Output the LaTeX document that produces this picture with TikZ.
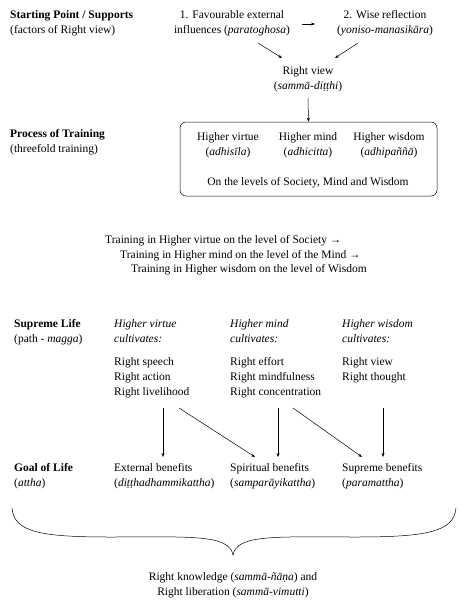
\documentclass[tikz,border=0pt]{standalone}
\usepackage{fontspec}
\setmainfont{Liberation Serif}
\usetikzlibrary{arrows.meta}
\begin{document}
\begin{tikzpicture}[x=1pt,y=-1pt,
  every node/.style={inner sep=0pt,font=\fontsize{11.5}{15}\selectfont},
  lt/.style={anchor=base west,align=left},
  ct/.style={anchor=base,align=center},
  arr/.style={line width=0.5pt,-{Stealth[length=4pt,width=3pt]}},
  ln/.style={line width=0.5pt}]
\useasboundingbox (0,0) rectangle (465,610);
% left labels (base anchor = last line baseline)
\node[lt] (sp) at (10,34) {\textbf{Starting Point / Supports}\\(factors of Right view)};
\node[lt] (pt) at (10,152) {\textbf{Process of Training}\\(threefold training)};
\node[lt] (sl) at (14,342) {\textbf{Supreme Life}\\(path - \textit{magga})};
\node[lt] (gl) at (14,486) {\textbf{Goal of Life}\\(\textit{attha})};
% top
\node[ct] (fav) at (232,34) {1. Favourable external\\influences (\textit{paratoghosa})};
\node[ct] (wise) at (385,34) {2. Wise reflection\\(\textit{yoniso-manasikāra})};
\node[ct] (rv) at (308,89) {Right view\\(\textit{sammā-diṭṭhi})};
\coordinate (h1) at (302,24);
\coordinate (h2) at (315,24);
\draw[arr] (h1) -- (h2);
\coordinate (d1s) at (258,43);
\coordinate (d1e) at (282,58);
\coordinate (d2s) at (358,43);
\coordinate (d2e) at (335,58);
\draw[arr] (d1s) -- (d1e);
\draw[arr] (d2s) -- (d2e);
% box
\node[draw,line width=0.5pt,rounded corners=6pt,minimum width=257pt,minimum height=74pt] (box) at (308.5,159) {};
\node[ct] (hv) at (228,155) {Higher virtue\\(\textit{adhisīla})};
\node[ct] (hm) at (308,155) {Higher mind\\(\textit{adhicitta})};
\node[ct] (hw) at (389,155) {Higher wisdom\\(\textit{adhipaññā})};
\node[ct] (lev) at (308,185) {On the levels of Society, Mind and Wisdom};
\coordinate (rvs) at (308,98);
\draw[arr] (rvs) -- (box.north);
% training lines
\node[lt] (t1) at (105,243) {Training in Higher virtue on the level of Society →};
\node[lt] (t2) at (120,258) {Training in Higher mind on the level of the Mind →};
\node[lt] (t3) at (131,272) {Training in Higher wisdom on the level of Wisdom};
% columns
\node[lt] (c1h) at (114,342) {\textit{Higher virtue}\\\textit{cultivates:}};
\node[lt] (c2h) at (230,342) {\textit{Higher mind}\\\textit{cultivates:}};
\node[lt] (c3h) at (342,342) {\textit{Higher wisdom}\\\textit{cultivates:}};
\node[lt] (c1l) at (114,395) {Right speech\\Right action\\Right livelihood};
\node[lt] (c2l) at (230,395) {Right effort\\Right mindfulness\\Right concentration};
\node[lt] (c3l) at (342,380) {Right view\\Right thought};
% benefits
\node[lt] (b1) at (114,486) {External benefits\\(\textit{diṭṭhadhammikattha})};
\node[lt] (b2) at (230,486) {Spiritual benefits\\(\textit{samparāyikattha})};
\node[lt] (b3) at (342,486) {Supreme benefits\\(\textit{paramattha})};
% arrows
\coordinate (a1s) at (163,408); \coordinate (a1e) at (163,457);
\coordinate (a2s) at (179,408); \coordinate (a2e) at (255,457);
\coordinate (a3s) at (278,408); \coordinate (a3e) at (278,457);
\coordinate (a4s) at (293,408); \coordinate (a4e) at (362,457);
\coordinate (a5s) at (383,408); \coordinate (a5e) at (383,457);
\draw[arr] (a1s) -- (a1e);
\draw[arr] (a2s) -- (a2e);
\draw[arr] (a3s) -- (a3e);
\draw[arr] (a4s) -- (a4e);
\draw[arr] (a5s) -- (a5e);
% brace
\coordinate (bl) at (12,508);
\coordinate (br) at (456,508);
\coordinate (bt) at (233,555);
\draw[ln] (bl) .. controls (14,532) and (40,537) .. (110,537)
  .. controls (190,537) and (229,534) .. (bt)
  .. controls (237,534) and (276,537) .. (356,537)
  .. controls (426,537) and (454,532) .. (br);
% final
\node[ct] (fin) at (233,595) {Right knowledge (\textit{sammā-ñāṇa}) and\\Right liberation (\textit{sammā-vimutti})};
\end{tikzpicture}
\end{document}
